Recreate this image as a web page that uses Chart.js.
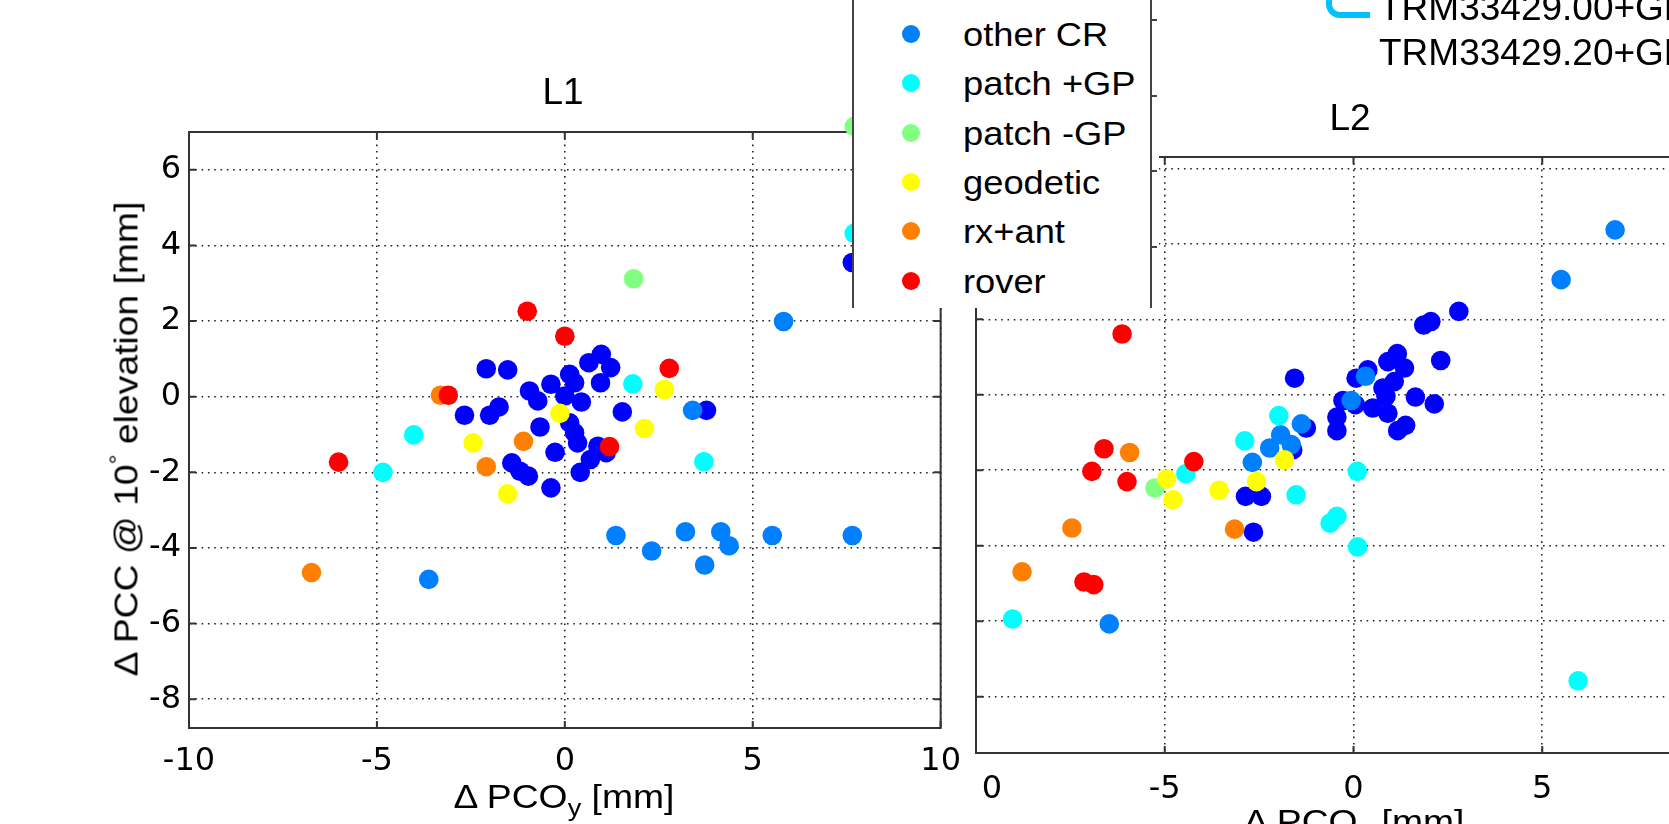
<!DOCTYPE html>
<html><head><meta charset="utf-8">
<script src="https://cdn.jsdelivr.net/npm/chart.js@4.4.1/dist/chart.umd.min.js"></script>
<style>
html,body{margin:0;padding:0;background:#fff;}
#stage{position:relative;width:1669px;height:824px;overflow:hidden;background:#fff;font-family:"Liberation Sans",Arial,sans-serif;color:#000;}
.abs{position:absolute;white-space:nowrap;}
#c2wrap{position:absolute;left:800px;top:0;width:980px;height:824px;}
#c1wrap{position:absolute;left:0;top:0;width:975px;height:824px;background:#fff;}
#legend{position:absolute;left:852px;top:0;width:307px;height:308px;background:#fff;border-left:2px solid #444;box-sizing:border-box;}
.lgm{position:absolute;width:18px;height:18px;border-radius:50%;}
.lgt{position:absolute;font-size:33px;line-height:33px;transform-origin:0 0;transform:scaleX(1.1);}
.vline{position:absolute;background:#444;}
</style></head>
<body>
<div id="stage">
  <div id="c2wrap"><canvas id="c2" width="980" height="824"></canvas></div>
  <div id="c1wrap"><canvas id="c1" width="975" height="824"></canvas></div>
  <div class="abs" style="left:975px;top:762px;width:7px;height:45px;background:#fff;"></div>
  <div class="abs" style="left:563px;top:73px;font-size:37px;line-height:37px;transform:translateX(-50%);">L1</div>
  <div class="abs" style="left:1350px;top:99px;font-size:37px;line-height:37px;transform:translateX(-50%);">L2</div>
  <div class="abs" style="left:126px;top:439px;font-size:33px;line-height:33px;transform:translate(-50%,-50%) rotate(-90deg) scaleX(1.13);">&Delta; PCC @ 10<sup style="font-size:22px;line-height:0;">&deg;</sup> elevation [mm]</div>
  <div class="abs" style="left:564px;top:780px;font-size:33px;line-height:33px;transform:translateX(-50%) scaleX(1.13);">&Delta; PCO<sub style="font-size:24px;line-height:0;">y</sub> [mm]</div>
  <div class="abs" style="left:1354px;top:805px;font-size:33px;line-height:33px;transform:translateX(-50%) scaleX(1.13);">&Delta; PCO<sub style="font-size:24px;line-height:0;">x</sub> [mm]</div>
  <div id="legend"></div>
  <div class="vline" style="left:1150px;top:0;width:2px;height:308px;"></div>
  <div class="vline" style="left:1151px;top:19px;width:6px;height:2px;"></div>
  <div class="vline" style="left:1151px;top:95px;width:6px;height:2px;"></div>
  <div class="vline" style="left:1151px;top:170px;width:6px;height:2px;"></div>
  <div class="vline" style="left:1151px;top:246px;width:6px;height:2px;"></div>
  <div class="abs" style="left:1326px;top:-30px;width:38px;height:42px;border-left:6px solid #00c0ff;border-bottom:6px solid #00c0ff;border-bottom-left-radius:14px;"></div>
  <div class="abs" style="left:1379px;top:-11px;font-size:37px;line-height:37px;">TRM33429.00+GP</div>
  <div class="abs" style="left:1379px;top:34px;font-size:37px;line-height:37px;">TRM33429.20+GP</div>
</div>
<script>
// ---- data ----
const X_TICKS = [-10, -5, 0, 5, 10];
const Y_TICKS = [-8, -6, -4, -2, 0, 2, 4, 6];
const CATEGORIES = ['TRM CR', 'other CR', 'patch +GP', 'patch -GP', 'geodetic', 'rx+ant', 'rover'];

// L1 panel: [PCO, PCC]
const L1_TRM = [[-2.09,0.74],[-1.52,0.71],[-2.67,-0.49],[-2.0,-0.49],[-1.75,-0.27],[-0.94,0.15],[-0.72,-0.11],[-0.37,0.33],[-0.66,-0.80],[0.13,0.59],[0.26,0.37],[0.0,0.02],[0.44,-0.14],[0.13,-0.69],[0.26,-0.95],[0.34,-1.22],[-0.26,-1.47],[-1.41,-1.75],[-1.19,-1.97],[-0.97,-2.10],[-0.37,-2.41],[0.41,-2.0],[0.68,-1.66],[0.88,-1.31],[1.10,-1.48],[0.64,0.90],[0.97,1.12],[1.22,0.77],[0.95,0.37],[1.53,-0.40],[3.77,-0.36],[7.65,3.55]];
const L1_OTHER = [[5.82,1.99],[3.40,-0.36],[1.36,-3.67],[2.31,-4.08],[3.21,-3.57],[4.15,-3.57],[4.37,-3.94],[3.72,-4.45],[5.52,-3.67],[7.65,-3.67],[-3.62,-4.83]];
const L1_PATCH_GP = [[1.81,0.34],[3.70,-1.72],[-4.02,-1.01],[-4.84,-2.0],[7.7,4.32]];
const L1_PATCH_NOGP = [[1.83,3.12],[7.7,7.15]];
const L1_GEODETIC = [[-0.13,-0.44],[-1.52,-2.57],[-2.44,-1.22],[2.65,0.19],[2.12,-0.84]];
const L1_RXANT = [[-3.31,0.04],[-2.09,-1.85],[-1.10,-1.18],[-6.74,-4.65]];
const L1_ROVER = [[0.0,1.6],[-1.0,2.26],[-3.10,0.04],[1.19,-1.32],[2.78,0.75],[-6.02,-1.73]];

// L2 panel
const L2_TRM = [[2.79,2.21],[2.05,1.94],[1.86,1.85],[2.31,0.91],[-1.56,0.44],[1.16,1.09],[0.91,0.88],[1.35,0.71],[0.38,0.66],[0.07,0.44],[1.08,0.35],[0.78,0.18],[0.86,-0.04],[-0.28,-0.15],[0.05,-0.26],[0.51,-0.35],[0.91,-0.49],[1.64,-0.06],[2.14,-0.24],[-0.44,-0.59],[-0.44,-0.95],[1.38,-0.81],[1.17,-0.95],[-1.25,-0.88],[-1.61,-1.46],[-2.86,-2.69],[-2.44,-2.69],[-2.65,-3.64]];
const L2_OTHER = [[6.93,4.37],[5.50,3.05],[0.32,0.49],[-0.06,-0.15],[-1.38,-0.77],[-1.93,-1.06],[-2.22,-1.41],[-1.65,-1.32],[-2.68,-1.79],[-6.47,-6.07]];
const L2_PATCH_GP = [[-1.98,-0.55],[-2.88,-1.22],[0.10,-2.03],[-1.52,-2.65],[-0.44,-3.22],[-0.62,-3.40],[0.11,-4.03],[5.95,-7.58],[-4.44,-2.09],[-9.03,-5.94]];
const L2_PATCH_NOGP = [[-5.26,-2.47]];
const L2_GEODETIC = [[-1.83,-1.72],[-4.95,-2.23],[-4.78,-2.78],[-3.56,-2.53],[-2.57,-2.30]];
const L2_RXANT = [[-5.93,-1.53],[-7.46,-3.53],[-3.15,-3.56],[-8.78,-4.69]];
const L2_ROVER = [[-6.13,1.61],[-6.61,-1.43],[-6.93,-2.03],[-6.0,-2.30],[-4.23,-1.77],[-7.14,-4.96],[-6.88,-5.03]];

// ---- styles ----
const COLORS = ['#0000ff', '#0080ff', '#00ffff', '#80ff80', '#ffff00', '#ff8000', '#ff0000'];

const L1_SERIES = [L1_TRM, L1_OTHER, L1_PATCH_GP, L1_PATCH_NOGP, L1_GEODETIC, L1_RXANT, L1_ROVER];
const L2_SERIES = [L2_TRM, L2_OTHER, L2_PATCH_GP, L2_PATCH_NOGP, L2_GEODETIC, L2_RXANT, L2_ROVER];

const matlabAxes = {
  id: 'matlabAxes',
  beforeDatasetsDraw(chart) {
    const {ctx, chartArea: a, scales: {x, y}} = chart;
    ctx.save();
    ctx.strokeStyle = '#333';
    ctx.lineWidth = 2;
    ctx.setLineDash([]);
    ctx.strokeRect(a.left, a.top, a.right - a.left, a.bottom - a.top);
    const L = 7;
    ctx.beginPath();
    x.ticks.forEach(t => {
      const px = x.getPixelForValue(t.value);
      ctx.moveTo(px, a.bottom); ctx.lineTo(px, a.bottom - L);
      ctx.moveTo(px, a.top); ctx.lineTo(px, a.top + L);
    });
    y.ticks.forEach(t => {
      const py = y.getPixelForValue(t.value);
      ctx.moveTo(a.left, py); ctx.lineTo(a.left + L, py);
      ctx.moveTo(a.right, py); ctx.lineTo(a.right - L, py);
    });
    ctx.stroke();
    ctx.restore();
  }
};

function makeDatasets(series) {
  return series.map((pts, i) => ({
    label: CATEGORIES[i],
    data: pts.map(p => ({x: p[0], y: p[1]})),
    backgroundColor: COLORS[i],
    borderWidth: 0,
    pointRadius: 9.8,
    pointBorderWidth: 0,
    pointHoverRadius: 9.8,
    clip: false,
    order: series.length - i
  }));
}

function makeChart(id, series, cfg) {
  return new Chart(document.getElementById(id), {
    type: 'scatter',
    data: {datasets: makeDatasets(series)},
    plugins: [matlabAxes],
    options: {
      responsive: false, animation: false, devicePixelRatio: 1, events: [],
      layout: {padding: cfg.padding},
      plugins: {legend: {display: false}, tooltip: {enabled: false}, title: {display: false}},
      scales: {
        x: {
          type: 'linear', position: 'bottom', min: -10, max: 10,
          afterBuildTicks: s => { s.ticks = X_TICKS.map(v => ({value: v})); },
          afterFit: s => { s.height = cfg.xH; },
          grid: {color: '#222', lineWidth: 1.6, drawTicks: false},
          border: {display: false, dash: [1.6, 4.7]},
          ticks: {font: {family: 'DejaVu Sans', size: 32}, color: '#000', padding: cfg.xPad, maxRotation: 0, autoSkip: false}
        },
        y: {
          type: 'linear', position: 'left', min: cfg.yMin, max: cfg.yMax,
          afterBuildTicks: s => { s.ticks = Y_TICKS.map(v => ({value: v})); },
          afterFit: s => { s.width = cfg.yW; },
          grid: {color: '#222', lineWidth: 1.6, drawTicks: false},
          border: {display: false, dash: [1.6, 4.7]},
          ticks: {display: cfg.yLabels, font: {family: 'DejaVu Sans', size: 32}, color: '#000', padding: 8, autoSkip: false}
        }
      }
    }
  });
}

makeChart('c2', L2_SERIES, {padding: {top: 157, right: 49, left: 0, bottom: 0}, xH: 71, xPad: 17, yW: 176, yMin: -9.49, yMax: 6.3, yLabels: false});
makeChart('c1', L1_SERIES, {padding: {top: 132, right: 31, left: 0, bottom: 0}, xH: 96, xPad: 14, yW: 189, yMin: -8.76, yMax: 7.0, yLabels: true});

// legend (HTML)
const lg = document.getElementById('legend');
CATEGORIES.forEach((name, i) => {
  const cy = 34 + (i - 1) * 49.3;
  const m = document.createElement('div');
  m.className = 'lgm';
  m.style.left = (908.7 - 852 - 9) + 'px';
  m.style.top = (cy - 9) + 'px';
  m.style.background = COLORS[i];
  lg.appendChild(m);
  const t = document.createElement('div');
  t.className = 'lgt';
  t.textContent = name;
  t.style.left = (960.6 - 852) + 'px';
  t.style.top = (cy + 12 - 0.8465 * 33) + 'px';
  lg.appendChild(t);
});
</script>
</body></html>
